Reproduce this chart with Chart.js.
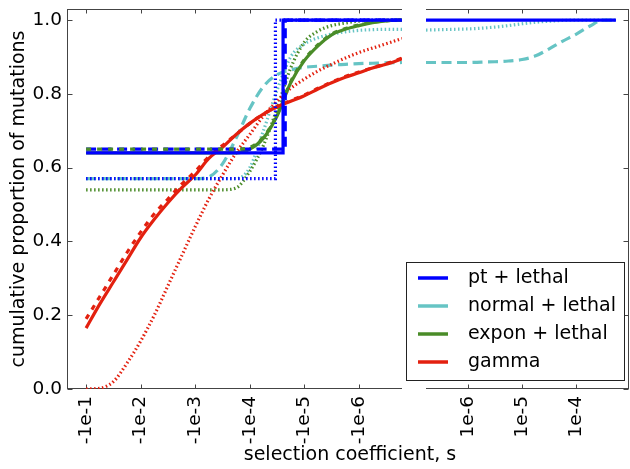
<!DOCTYPE html>
<html>
<head>
<meta charset="utf-8">
<script src="https://cdn.jsdelivr.net/npm/chart.js@4"></script>
<style>
  body { margin: 0; background: #fff; }
  #wrap { position: relative; width: 630px; height: 469px; }
  canvas { position: absolute; left: 0; top: 0; }
</style>
</head>
<body>
<div id="wrap">
  <canvas id="neg-chart" width="630" height="469"></canvas>
  <canvas id="pos-chart" width="630" height="469"></canvas>
</div>
<script>
// x positions are log10 |s|; the left panel holds negative s, the right one positive s
const negTicks = [-1, -2, -3, -4, -5, -6];
const posTicks = [-6, -5, -4];
const yTicks = [0, 0.2, 0.4, 0.6, 0.8, 1.0];

const seriesNames = ["pt + lethal", "normal + lethal", "expon + lethal", "gamma"];
const seriesColors = ["#0000ff", "#66c4c4", "#4a8c28", "#e3200f"];

const negGrid = [-1, -1.25, -1.5, -1.75, -2, -2.25, -2.5, -2.75, -3, -3.25, -3.5, -3.75,
  -4, -4.25, -4.5, -4.75, -5, -5.25, -5.5, -5.75, -6, -6.25, -6.5, -6.79];
const posGrid = [-6.77, -6.5, -6.25, -6, -5.75, -5.5, -5.25, -5, -4.75, -4.5, -4.25, -4, -3.75, -3.5, -3.27];

// point mass: step functions
const ptSolidX = [-1, -4.61, -4.61, -6.79];
const ptSolidY = [0.64, 0.64, 1.0, 1.0];
const ptDashX = [-1, -4.65, -4.65, -6.79];
const ptDashY = [0.65, 0.65, 1.0, 1.0];
const ptDotX = [-1, -4.47, -4.47, -6.79];
const ptDotY = [0.57, 0.57, 1.0, 1.0];
const ptPosX = [-6.77, -3.27];
const ptPosY = [1.0, 1.0];

const gammaSolid = [0.165, 0.23, 0.29, 0.35, 0.41, 0.46, 0.505, 0.545, 0.58, 0.625, 0.655, 0.69,
  0.72, 0.745, 0.765, 0.78, 0.795, 0.813, 0.83, 0.845, 0.857, 0.87, 0.88, 0.895];
const gammaDash = [0.19, 0.25, 0.31, 0.37, 0.425, 0.475, 0.515, 0.555, 0.59, 0.63, 0.66, 0.69,
  0.72, 0.745, 0.765, 0.782, 0.797, 0.815, 0.832, 0.847, 0.859, 0.871, 0.882, 0.897];
const gammaDot = [0.0, 0.002, 0.02, 0.07, 0.13, 0.2, 0.28, 0.36, 0.44, 0.515, 0.58, 0.64,
  0.69, 0.74, 0.78, 0.815, 0.84, 0.862, 0.88, 0.897, 0.912, 0.924, 0.936, 0.95];

const exponSolid = [0.64, 0.64, 0.64, 0.64, 0.64, 0.64, 0.64, 0.64, 0.64, 0.64, 0.64, 0.64,
  0.65, 0.68, 0.74, 0.83, 0.89, 0.93, 0.96, 0.975, 0.985, 0.993, 0.998, 1.0];
const exponDash = [0.65, 0.65, 0.65, 0.65, 0.65, 0.65, 0.65, 0.65, 0.65, 0.65, 0.65, 0.65,
  0.655, 0.683, 0.743, 0.833, 0.893, 0.933, 0.962, 0.977, 0.987, 0.994, 0.998, 1.0];
const exponDot = [0.54, 0.54, 0.54, 0.54, 0.54, 0.54, 0.54, 0.54, 0.54, 0.54, 0.54, 0.545,
  0.59, 0.66, 0.76, 0.87, 0.94, 0.97, 0.985, 0.992, 0.997, 0.999, 1.0, 1.0];

const normalDash = [0.57, 0.57, 0.57, 0.57, 0.57, 0.57, 0.57, 0.57, 0.57, 0.575, 0.61, 0.68,
  0.76, 0.82, 0.852, 0.865, 0.872, 0.875, 0.878, 0.88, 0.882, 0.883, 0.884, 0.885];
const normalDot = [0.57, 0.57, 0.57, 0.57, 0.57, 0.57, 0.57, 0.57, 0.57, 0.57, 0.57, 0.57,
  0.60, 0.70, 0.81, 0.9, 0.935, 0.952, 0.962, 0.968, 0.972, 0.974, 0.975, 0.975];
const normalDashPos = [0.885, 0.885, 0.885, 0.885, 0.886, 0.887, 0.889, 0.893, 0.903, 0.922,
  0.943, 0.962, 0.984, 1.0, 1.0];
const normalDotPos = [0.973, 0.974, 0.975, 0.976, 0.978, 0.981, 0.985, 0.99, 0.994, 0.997,
  0.999, 1.0, 1.0, 1.0, 1.0];

const xTitle = "selection coefficient, s";
const yTitle = "cumulative proportion of mutations";

Chart.defaults.font.family = "DejaVu Sans";
Chart.defaults.font.size = 18.5;
Chart.defaults.color = "#000";

const dashes = {
  solid: [],
  dashed: [10, 5.5],
  short: [5, 6],
  dotted: [1.5, 2.5]
};

function curve(xs, ys, color, style, smooth) {
  return {
    data: xs.map((x, i) => ({ x: x, y: ys[i] })),
    borderColor: color,
    borderWidth: 3.2,
    borderDash: dashes[style],
    borderCapStyle: "butt",
    pointRadius: 0,
    fill: false,
    cubicInterpolationMode: smooth ? "monotone" : "default",
    tension: smooth ? 0.4 : 0
  };
}

// keep the plot box exactly where the layout padding puts it
function noOverflow(s) {
  s.paddingTop = 0;
  s.paddingBottom = 0;
  s.paddingLeft = 0;
  s.paddingRight = 0;
}

// spines and inward tick marks
const framePlugin = {
  id: "frame",
  beforeDatasetsDraw(chart, args, opts) {
    const { ctx, chartArea: a, scales } = chart;
    ctx.save();
    ctx.strokeStyle = "#444";
    ctx.lineWidth = 1;
    ctx.beginPath();
    const L = a.left + 0.5, R = a.right - 0.5, T = a.top + 0.5, B = a.bottom - 0.5;
    opts.sides.forEach(side => {
      if (side === "left") { ctx.moveTo(L, a.top); ctx.lineTo(L, a.bottom); }
      if (side === "right") { ctx.moveTo(R, a.top); ctx.lineTo(R, a.bottom); }
      if (side === "top") { ctx.moveTo(a.left, T); ctx.lineTo(a.right, T); }
      if (side === "bottom") { ctx.moveTo(a.left, B); ctx.lineTo(a.right, B); }
    });
    opts.xTicks.forEach(v => {
      const px = Math.round(scales.x.getPixelForValue(v)) + 0.5;
      ctx.moveTo(px, T); ctx.lineTo(px, T + 4);
      ctx.moveTo(px, B); ctx.lineTo(px, B - 4);
    });
    yTicks.forEach(v => {
      const py = Math.round(scales.y.getPixelForValue(v)) + 0.5;
      if (opts.sides.includes("left")) { ctx.moveTo(L, py); ctx.lineTo(L + 5, py); }
      if (opts.sides.includes("right")) { ctx.moveTo(R, py); ctx.lineTo(R - 5, py); }
    });
    ctx.stroke();
    ctx.restore();
  }
};

// shared x axis title, centred under both panels
const xTitlePlugin = {
  id: "xTitle",
  afterDraw(chart, args, opts) {
    if (!opts.text) return;
    const ctx = chart.ctx;
    ctx.save();
    ctx.font = "19px 'DejaVu Sans'";
    ctx.fillStyle = "#000";
    ctx.textAlign = "center";
    ctx.textBaseline = "middle";
    ctx.fillText(opts.text, opts.x, opts.y);
    ctx.restore();
  }
};

const legendPlugin = {
  id: "legendBox",
  afterDraw(chart, args, opts) {
    if (!opts.show) return;
    const ctx = chart.ctx;
    ctx.save();
    ctx.fillStyle = "#fff";
    ctx.fillRect(406.5, 262.5, 218, 118);
    ctx.strokeStyle = "#222";
    ctx.lineWidth = 1;
    ctx.strokeRect(406.5, 262.5, 218, 118);
    ctx.font = "19px 'DejaVu Sans'";
    ctx.textBaseline = "middle";
    seriesNames.forEach((name, i) => {
      const y = 278 + i * 28;
      ctx.strokeStyle = seriesColors[i];
      ctx.lineWidth = 3.5;
      ctx.beginPath();
      ctx.moveTo(418, y);
      ctx.lineTo(448, y);
      ctx.stroke();
      ctx.fillStyle = "#000";
      ctx.fillText(name, 468, y);
    });
    ctx.restore();
  }
};

const [blue, cyan, green, red] = seriesColors;

// first dataset ends up on top
const negChart = new Chart(document.getElementById("neg-chart"), {
  type: "line",
  data: {
    datasets: [
      curve(ptSolidX, ptSolidY, blue, "solid", false),
      curve(negGrid, exponDash, green, "short", true),
      curve(ptDashX, ptDashY, blue, "dashed", false),
      curve(ptDotX, ptDotY, blue, "dotted", false),
      curve(negGrid, gammaSolid, red, "solid", true),
      curve(negGrid, gammaDash, red, "short", true),
      curve(negGrid, gammaDot, red, "dotted", true),
      curve(negGrid, exponSolid, green, "solid", true),
      curve(negGrid, exponDot, green, "dotted", true),
      curve(negGrid, normalDash, cyan, "dashed", true),
      curve(negGrid, normalDot, cyan, "dotted", true)
    ]
  },
  options: {
    responsive: false,
    animation: false,
    devicePixelRatio: 1,
    layout: { padding: { left: 0, right: 228, top: 9, bottom: 0 } },
    plugins: {
      legend: { display: false },
      tooltip: { enabled: false },
      frame: { sides: ["left", "top", "bottom"], xTicks: negTicks },
      xTitle: { text: xTitle, x: 350, y: 455 },
      legendBox: { show: false }
    },
    scales: {
      x: {
        type: "linear",
        reverse: true,
        min: -6.79,
        max: -0.65,
        grid: { display: false, drawTicks: false },
        border: { display: false },
        afterBuildTicks: s => { s.ticks = negTicks.map(v => ({ value: v })); },
        afterFit: s => { s.height = 80; noOverflow(s); },
        ticks: { padding: 7, minRotation: 90, maxRotation: 90, autoSkip: false, callback: v => "-1e" + v }
      },
      y: {
        min: 0,
        max: 1.03,
        grid: { display: false, drawTicks: false },
        border: { display: false },
        afterBuildTicks: s => { s.ticks = yTicks.map(v => ({ value: v })); },
        afterFit: s => { s.width = 67; noOverflow(s); },
        ticks: { padding: 5, callback: v => v.toFixed(1) },
        title: { display: true, text: yTitle, font: { size: 19 }, padding: { top: 8, bottom: 0 } }
      }
    }
  },
  plugins: [framePlugin, xTitlePlugin, legendPlugin]
});

const posChart = new Chart(document.getElementById("pos-chart"), {
  type: "line",
  data: {
    datasets: [
      curve(ptPosX, ptPosY, blue, "solid", false),
      curve(posGrid, normalDashPos, cyan, "dashed", true),
      curve(posGrid, normalDotPos, cyan, "dotted", true)
    ]
  },
  options: {
    responsive: false,
    animation: false,
    devicePixelRatio: 1,
    layout: { padding: { left: 426, right: 1, top: 9, bottom: 0 } },
    plugins: {
      legend: { display: false },
      tooltip: { enabled: false },
      frame: { sides: ["right", "top", "bottom"], xTicks: posTicks },
      xTitle: { text: "" },
      legendBox: { show: true }
    },
    scales: {
      x: {
        type: "linear",
        min: -6.77,
        max: -3.03,
        grid: { display: false, drawTicks: false },
        border: { display: false },
        afterBuildTicks: s => { s.ticks = posTicks.map(v => ({ value: v })); },
        afterFit: s => { s.height = 80; noOverflow(s); },
        ticks: { padding: 7, minRotation: 90, maxRotation: 90, autoSkip: false, callback: v => "1e" + v }
      },
      y: { display: false, min: 0, max: 1.03 }
    }
  },
  plugins: [framePlugin, xTitlePlugin, legendPlugin]
});
</script>
</body>
</html>
